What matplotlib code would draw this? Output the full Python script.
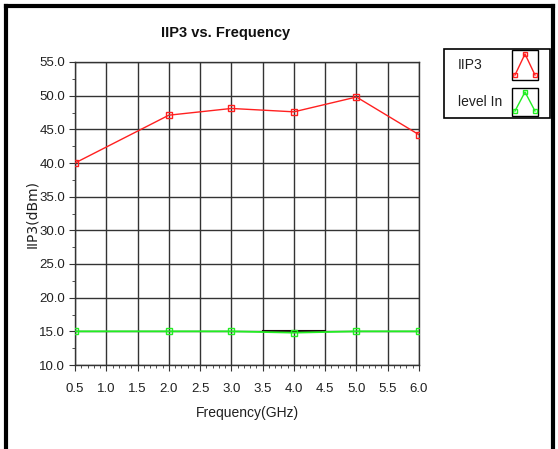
import matplotlib
matplotlib.use("Agg")
import matplotlib.pyplot as plt
from matplotlib.lines import Line2D
from matplotlib.patches import Rectangle
from matplotlib.ticker import MultipleLocator

freq = [0.5, 2.0, 3.0, 4.0, 5.0, 6.0]
iip3 = [40.0, 47.1, 48.1, 47.6, 49.8, 44.2]
level_in = [15.0, 15.0, 15.0, 14.8, 15.0, 15.0]
xticks = [0.5, 1.0, 1.5, 2.0, 2.5, 3.0, 3.5, 4.0, 4.5, 5.0, 5.5, 6.0]
yticks = [10, 15, 20, 25, 30, 35, 40, 45, 50, 55]
legend_labels = ["IIP3", "level In"]

plt.rcParams['font.family'] = ['Liberation Sans', 'DejaVu Sans']

fig = plt.figure(figsize=(5.58, 4.49), dpi=100)
W, H = 558, 449
ax = fig.add_axes([75 / W, 1 - 365 / H, (419 - 75) / W, (365 - 62) / H])

ax.plot(freq, iip3, color='#ff2020', lw=1.0, marker='s', ms=4, mfc='none', mec='#ff2020', mew=1.0, zorder=3)
ax.plot(freq, level_in, color='#22ee22', lw=1.3, marker='s', ms=4, mfc='none', mec='#22ee22', mew=1.0, zorder=3)
ax.plot([3.5, 4.5], [15.0, 15.0], color='#200010', lw=1.5, zorder=2)

ax.set_xlim(0.5, 6.0)
ax.set_ylim(10, 55)
ax.set_xticks(xticks)
ax.set_xticklabels([f"{v:.1f}" for v in xticks])
ax.set_yticks(yticks)
ax.set_yticklabels([f"{v:.1f}" for v in yticks])
ax.xaxis.set_minor_locator(MultipleLocator(0.1))
ax.yaxis.set_minor_locator(MultipleLocator(2.5))
ax.grid(True, which='major', color='#333333', lw=1.0)
ax.set_axisbelow(True)
for s in ax.spines.values():
    s.set_color('#333333')
    s.set_linewidth(1.0)
ax.tick_params(axis='both', which='major', labelsize=9.5, length=4, color='#333333', labelcolor='#202020')
ax.tick_params(axis='x', which='major', pad=9)
ax.tick_params(axis='y', which='major', pad=3)
ax.tick_params(axis='both', which='minor', length=2, color='#333333')
ax.set_xlabel("Frequency(GHz)", fontsize=10, color='#202020')
ax.xaxis.set_label_coords(0.5, -(406 - 365) / (365 - 62))
ax.set_ylabel("IIP3(dBm)", fontsize=10, color='#202020', family=['DejaVu Sans'])
ax.yaxis.set_label_coords(-(75 - 39) / (419 - 75), 0.5)
fig.text(226 / W, 1 - 33 / H, "IIP3 vs. Frequency", ha='center', va='center', fontsize=10.5, fontweight='bold', color='#101010')

# outer frame
fig.add_artist(Line2D([6 / W, 6 / W], [0, 1 - 6 / H], color='black', lw=3))
fig.add_artist(Line2D([6 / W, 553 / W], [1 - 6 / H, 1 - 6 / H], color='black', lw=3))
fig.add_artist(Line2D([553 / W, 553 / W], [0, 1 - 6 / H], color='black', lw=3))

# legend box
def fx(x):
    return x / W

def fy(y):
    return 1 - y / H

fig.add_artist(Rectangle((fx(444), fy(118)), fx(550) - fx(444), fy(49) - fy(118), fill=False, ec='black', lw=1.2))
colors = ['#ff2020', '#22ee22']
rows = [(50, 80), (88, 116)]
for (t, b), lab, c in zip(rows, legend_labels, colors):
    fig.text(fx(458), fy((t + b) / 2), lab, ha='left', va='center', fontsize=10, color='#202020')
    fig.add_artist(Rectangle((fx(512), fy(b)), fx(538) - fx(512), fy(t) - fy(b), fill=False, ec='black', lw=1.0))
    xs = [fx(515), fx(525), fx(535)]
    ys = [fy(b - 5), fy(t + 4), fy(b - 5)]
    fig.add_artist(Line2D(xs, ys, color=c, lw=1.0, marker='s', ms=3, mfc='none', mec=c))

fig.savefig("out.png", dpi=100)
